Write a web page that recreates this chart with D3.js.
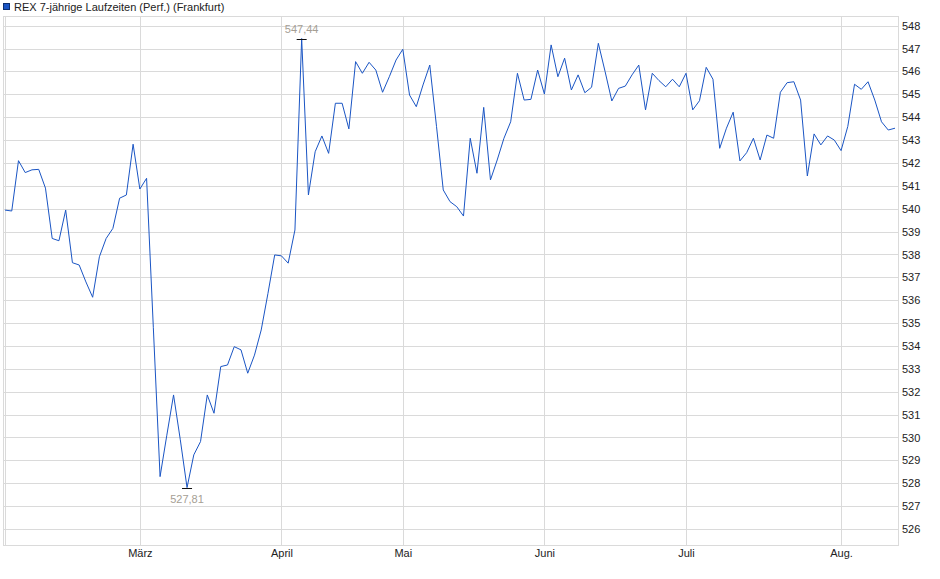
<!DOCTYPE html>
<html>
<head>
<meta charset="utf-8">
<script src="https://cdn.jsdelivr.net/npm/d3@7.9.0/dist/d3.min.js"></script>
<style>
  html, body { margin: 0; padding: 0; background: #fff; }
  svg { display: block; font-family: "Liberation Sans", Arial, sans-serif; }
</style>
</head>
<body>
<svg id="chart" width="940" height="579"></svg>
<script>
const title = 'REX 7-jährige Laufzeiten (Perf.) (Frankfurt)';

// daily closes (one per trading day)
const closes = [
  539.94, 539.90, 542.10, 541.58, 541.70, 541.72, 540.90, 538.70, 538.60, 539.94,
  537.64, 537.54, 536.80, 536.13, 537.90, 538.70, 539.14, 540.46, 540.60, 542.82,
  540.86, 541.33, 534.80, 528.29, 530.10, 531.86, 529.90, 527.81, 529.24, 529.82,
  531.86, 531.06, 533.10, 533.17, 533.97, 533.83, 532.81, 533.60, 534.70, 536.30,
  537.98, 537.94, 537.62, 539.07, 547.44, 540.60, 542.49, 543.18, 542.42, 544.61,
  544.61, 543.49, 546.43, 545.92, 546.40, 546.06, 545.09, 545.77, 546.50, 546.97,
  544.97, 544.46, 545.41, 546.28, 543.60, 540.82, 540.31, 540.09, 539.68, 543.08,
  541.55, 544.43, 541.26, 542.13, 543.08, 543.80, 545.92, 544.75, 544.78, 546.06,
  545.01, 547.16, 545.77, 546.58, 545.19, 545.85, 545.07, 545.31, 547.23, 546.00,
  544.71, 545.26, 545.36, 545.85, 546.28, 544.32, 545.92, 545.60, 545.33, 545.66,
  545.33, 545.92, 544.32, 544.72, 546.18, 545.66, 542.64, 543.52, 544.22, 542.09,
  542.45, 543.08, 542.13, 543.22, 543.08, 545.09, 545.51, 545.55, 544.75, 541.43,
  543.27, 542.79, 543.18, 543.00, 542.54, 543.60, 545.44, 545.22, 545.55, 544.75,
  543.80, 543.44, 543.52
];

// first trading day of each month (index into closes)
const monthIndex = [0, 20, 41, 59, 80, 101, 124];
const monthLabels = ['', 'März', 'April', 'Mai', 'Juni', 'Juli', 'Aug.'];

const yTicks = d3.range(526, 549);

const svg = d3.select('#chart');
const plot = { left: 3, right: 898, top: 16, bottom: 545 };

const x = d3.scaleLinear().domain([0, closes.length - 1]).range([5, 895]);
const y = d3.scaleLinear().domain([526, 548]).range([529, 25.7]);

const gridColor = '#dadada';

// horizontal gridlines
svg.append('g')
  .selectAll('line')
  .data(yTicks)
  .join('line')
  .attr('x1', plot.left)
  .attr('x2', plot.right)
  .attr('y1', d => Math.round(y(d)) + 0.5)
  .attr('y2', d => Math.round(y(d)) + 0.5)
  .attr('stroke', gridColor);

// vertical gridlines at month starts
svg.append('g')
  .selectAll('line')
  .data(monthIndex)
  .join('line')
  .attr('x1', d => Math.round(x(d)) + 0.5)
  .attr('x2', d => Math.round(x(d)) + 0.5)
  .attr('y1', plot.top)
  .attr('y2', plot.bottom)
  .attr('stroke', gridColor);

// frame
svg.append('rect')
  .attr('x', plot.left + 0.5)
  .attr('y', plot.top + 0.5)
  .attr('width', plot.right - plot.left)
  .attr('height', plot.bottom - plot.top)
  .attr('fill', 'none')
  .attr('stroke', gridColor);

// right axis
const yAxis = d3.axisRight(y)
  .tickValues(yTicks)
  .tickSize(0)
  .tickPadding(4)
  .tickFormat(d3.format('d'));

svg.append('g')
  .attr('transform', `translate(${plot.right}, 0)`)
  .call(yAxis)
  .call(g => g.select('.domain').remove())
  .call(g => g.selectAll('text').attr('font-size', 11).attr('fill', '#222')
    .attr('font-family', '"Liberation Sans", Arial, sans-serif'));

// bottom axis (month labels)
const xAxis = d3.axisBottom(x)
  .tickValues(monthIndex.slice(1))
  .tickSize(0)
  .tickPadding(4)
  .tickFormat((d, i) => monthLabels[i + 1]);

svg.append('g')
  .attr('transform', `translate(0, ${plot.bottom})`)
  .call(xAxis)
  .call(g => g.select('.domain').remove())
  .call(g => g.selectAll('text').attr('font-size', 11).attr('fill', '#222')
    .attr('font-family', '"Liberation Sans", Arial, sans-serif'));

// price line
const line = d3.line()
  .x((d, i) => x(i))
  .y(d => y(d));

svg.append('path')
  .datum(closes)
  .attr('d', line)
  .attr('fill', 'none')
  .attr('stroke', '#1a55c4')
  .attr('stroke-width', 1);

// high / low markers
const hiIdx = d3.maxIndex(closes);
const loIdx = d3.minIndex(closes);
const fmt = v => v.toFixed(2).replace('.', ',');

[[hiIdx, -7], [loIdx, 14]].forEach(([i, dy]) => {
  const cx = x(i);
  const cy = Math.round(y(closes[i])) + 0.5;
  svg.append('line')
    .attr('x1', cx - 5).attr('x2', cx + 5)
    .attr('y1', cy).attr('y2', cy)
    .attr('stroke', '#111')
    .attr('stroke-width', 1);
  svg.append('text')
    .attr('x', cx)
    .attr('y', cy + dy)
    .attr('text-anchor', 'middle')
    .attr('font-size', 11)
    .attr('fill', '#a59e94')
    .text(fmt(closes[i]));
});

// legend
const legend = svg.append('g');
legend.append('rect')
  .attr('x', 3.5).attr('y', 3.5)
  .attr('width', 6).attr('height', 6)
  .attr('fill', '#1a55c4')
  .attr('stroke', '#0d2f70');
legend.append('text')
  .attr('x', 14)
  .attr('y', 11)
  .attr('font-size', 11)
  .attr('fill', '#222')
  .text(title);
</script>
</body>
</html>
